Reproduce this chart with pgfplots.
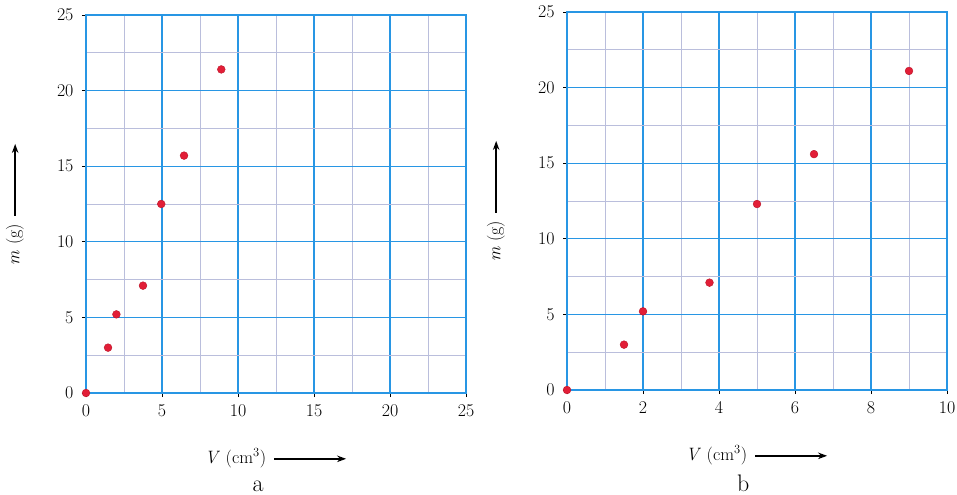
\documentclass[border=0pt]{standalone}
\usepackage{fontspec}
\usepackage{pgfplots}
\pgfplotsset{compat=1.18}
\usetikzlibrary{arrows.meta}

\definecolor{gridmajor}{RGB}{40,150,228}
\definecolor{gridminor}{RGB}{186,190,220}
\definecolor{dotred}{RGB}{226,30,55}
\definecolor{dotedge}{RGB}{185,20,40}

% measured values, one table per panel
\pgfplotstableread{
V     m
0     0
1.45  3.0
2.0   5.2
3.75  7.1
4.95  12.5
6.45  15.7
8.9   21.4
}\dataA
\pgfplotstableread{
V     m
0     0
1.5   3.0
2.0   5.2
3.75  7.1
5.0   12.3
6.5   15.6
9.0   21.1
}\dataB

\newcommand{\longarrow}{\tikz[baseline=-0.55ex]\draw[-{Stealth[length=9bp,width=6.5bp]},line width=1.9bp] (0,0) -- (72bp,0);}
\newcommand{\labfont}{\fontsize{18}{20}\selectfont}
\newcommand{\panelfont}{\fontsize{24}{26}\selectfont}

\pgfplotsset{
  panel/.style={
    scale only axis, width=380bp, height=378bp,
    ymin=0, ymax=25, ytick={0,5,...,25}, minor ytick={2.5,7.5,...,22.5},
    grid=both,
    major grid style={gridmajor, line width=1.3bp},
    minor grid style={gridminor, line width=0.6bp},
    axis line style={gridmajor, line width=2.2bp},
    tick align=outside, tick pos=left,
    major tick length=4bp, minor tick length=0pt,
    tick style={black, line width=0.6bp},
    /pgf/number format/assume math mode=true,
    ticklabel style={font=\labfont},
    xticklabel style={yshift=-4bp},
    yticklabel style={xshift=-5bp},
    label style={font=\labfont},
    xlabel={\textit{V} (cm\textsuperscript{3})\hspace{7bp}\longarrow},
    ylabel={\textit{m} (g)\hspace{7bp}\longarrow},
    xlabel style={at={(axis description cs:0.5,-0.172)}, anchor=center},
    ylabel style={at={(axis description cs:-0.187,0.5)}, anchor=center},
    clip=false,
  },
  dots/.style={only marks, mark=*, mark size=3.9bp,
    mark options={fill=dotred, draw=dotedge, line width=0.4bp}},
}

\begin{document}
\begin{tikzpicture}
\useasboundingbox (0,0) rectangle (957bp,495bp);

\begin{axis}[panel, at={(86bp,102bp)}, anchor=south west,
  xmin=0, xmax=25, xtick={0,5,...,25}, minor xtick={2.5,7.5,...,22.5}]
  \addplot[dots] table[x=V, y=m] {\dataA};
  \node[font=\panelfont] at (axis description cs:0.453,-0.248) {a};
\end{axis}

\begin{axis}[panel, at={(567bp,105bp)}, anchor=south west,
  xmin=0, xmax=10, xtick={0,2,...,10}, minor xtick={1,3,...,9}]
  \addplot[dots] table[x=V, y=m] {\dataB};
  \node[font=\panelfont] at (axis description cs:0.464,-0.248) {b};
\end{axis}
\end{tikzpicture}
\end{document}
